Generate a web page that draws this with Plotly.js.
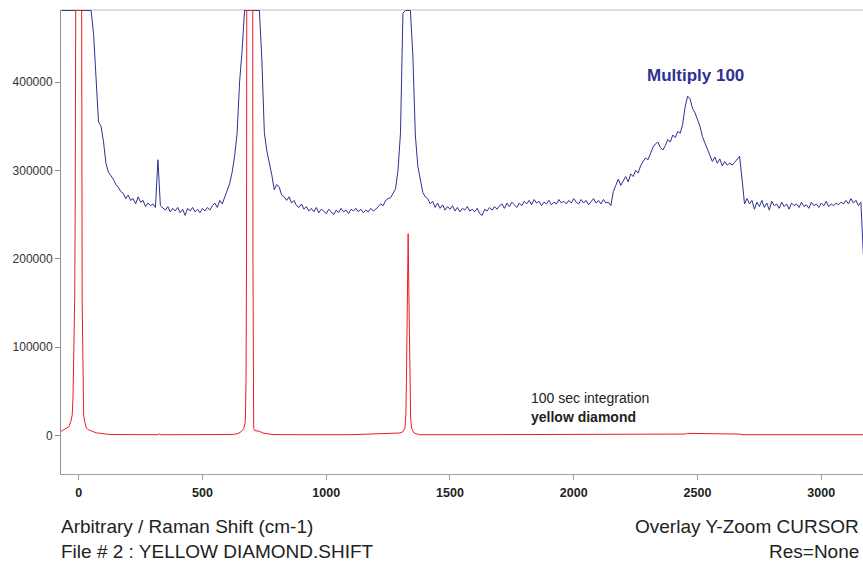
<!DOCTYPE html>
<html>
<head>
<meta charset="utf-8">
<script src="https://cdn.plot.ly/plotly-3.0.1.min.js"></script>
<style>html,body{margin:0;padding:0;background:#fff;}#chart{width:863px;height:565px;}</style>
</head>
<body>
<div id="chart"></div>
<script>
// Raman shift sampling grid for the x100 trace (cm-1)
const shiftStart = -70;
const shiftStep = 10;
// "Multiply 100" trace, values in thousands of counts (clipped at top)
const multipliedK = [
481,481,481,481,481,481,481,481,481,481,
481,481,481,455,405,355,350,333,308,298,
294,290,284,281,276,274,268,272,266,268,
262,270,264,266,259,263,260,262,258,312,
260,258,255,259,253,257,254,258,252,256,
249,257,254,258,253,256,252,257,254,258,
255,260,263,258,266,262,270,276,285,298,
316,342,400,435,481,481,481,481,481,481,
481,425,343,322,310,295,278,284,281,272,
270,266,270,263,266,260,258,262,256,259,
254,257,253,258,252,256,254,251,256,253,
250,255,252,257,253,255,251,256,254,257,
253,256,252,255,253,257,254,256,259,262,
260,266,268,269,274,279,300,342,478,481,
481,481,430,340,305,292,275,270,268,262,
265,258,263,257,261,255,259,256,260,254,
258,253,257,255,259,254,256,253,257,251,
249,256,254,258,255,259,256,260,262,257,
263,259,264,261,258,263,260,265,262,266,
261,267,263,265,260,264,262,266,261,264,
262,267,263,265,262,266,263,268,264,262,
267,263,266,261,265,268,263,266,262,267,
263,264,260,276,283,290,283,289,293,287,
296,293,300,297,305,310,314,312,320,326,
330,332,326,323,328,335,332,340,337,344,
342,352,372,384,381,370,365,358,350,338,
331,325,318,310,315,308,313,305,310,306,
308,306,309,312,316,290,262,268,262,266,
256,264,259,266,258,263,255,265,260,262,
257,264,259,262,256,263,260,262,258,264,
259,261,257,264,260,262,258,263,260,265,
259,262,260,263,261,264,262,266,262,268,
263,266,260,264,205
];
// Raw spectrum (red), Raman shift (cm-1) and counts
const rawShift = [-71,-61,-50,-40,-32,-26,-23,-19,-16,-14,-12,0,12,14,17,20,24,31,38,44,72,85,125,200,287,320,325,330,400,489,600,622,643,658,667,673,676,678,679,691,703,704,705.5,707,711,723,731,744,759,785,900,1100,1297,1309,1318,1322,1324,1328,1331,1334,1338,1341,1345,1354,1365,1378,1600,1900,2150,2160,2225,2230,2240,2400,2450,2460,2500,2510,2670,2680,2900,3170];
const rawCounts = [4500,6500,8700,9800,15500,23400,43800,108000,157000,266000,481000,481000,481000,153000,40400,23400,15800,8700,6500,5900,2700,2500,1000,900,800,800,1800,800,800,800,900,1000,2000,4500,8000,15000,60000,200000,481000,481000,481000,200000,40000,8000,5500,5000,4500,2700,1800,900,800,800,2700,4000,8000,25000,60000,160000,228300,160000,60000,20000,8000,3000,1700,800,800,800,900,1300,1300,900,1300,1400,1500,2300,2300,1500,1500,800,800,800];
const xTicks = [0,500,1000,1500,2000,2500,3000];
const yTicks = [0,100000,200000,300000,400000];

const multShift = multipliedK.map((v, i) => shiftStart + i * shiftStep);
const multCounts = multipliedK.map(v => v * 1000);

const FONT = 'Liberation Sans, Arial, sans-serif';
const traces = [
  {x: multShift, y: multCounts, type: 'scatter', mode: 'lines',
   line: {color: '#2e3192', width: 1}, hoverinfo: 'skip'},
  {x: rawShift, y: rawCounts, type: 'scatter', mode: 'lines',
   line: {color: '#ed1c24', width: 1}, hoverinfo: 'skip'}
];
const layout = {
  width: 863, height: 565,
  margin: {l: 61, r: 0, t: 10, b: 91},
  paper_bgcolor: '#ffffff', plot_bgcolor: '#ffffff',
  showlegend: false,
  font: {family: FONT, color: '#333333'},
  xaxis: {range: [-71.5, 3168.6], tickvals: xTicks, ticktext: xTicks.map(String),
    showgrid: false, zeroline: false, showline: true, linecolor: '#9aa0a6', linewidth: 1,
    ticks: 'outside', ticklen: 5, tickcolor: '#9aa0a6', ticklabelstandoff: 2,
    tickfont: {family: FONT, size: 12.5, color: '#222222', weight: 'bold'}},
  yaxis: {range: [-43700, 481500], tickvals: yTicks, ticktext: yTicks.map(String),
    showgrid: false, zeroline: false, showline: true, linecolor: '#8a9199', linewidth: 1,
    ticks: 'outside', ticklen: 5, tickcolor: '#8a9199',
    tickfont: {family: FONT, size: 12, color: '#333333'}},
  shapes: [{type: 'line', xref: 'paper', yref: 'paper', x0: 0, x1: 1, y0: 1, y1: 1,
    line: {color: '#b8bcc0', width: 1}, layer: 'below'}],
  annotations: [
    {xref: 'paper', yref: 'paper', x: 0.791, y: 0.8578, text: '<b>Multiply 100</b>',
     showarrow: false, font: {family: FONT, size: 17, color: '#2e3192'}, xanchor: 'center', yanchor: 'middle'},
    {xref: 'paper', yref: 'paper', x: 0.583, y: 0.1638, text: '100 sec integration',
     showarrow: false, font: {family: FONT, size: 14, color: '#222222'}, xanchor: 'left', yanchor: 'middle'},
    {xref: 'paper', yref: 'paper', x: 0.583, y: 0.1228, text: '<b>yellow diamond</b>',
     showarrow: false, font: {family: FONT, size: 14, color: '#222222'}, xanchor: 'left', yanchor: 'middle'},
    {xref: 'paper', yref: 'paper', x: -0.002, y: -0.1142, text: 'Arbitrary / Raman Shift (cm-1)',
     showarrow: false, font: {family: FONT, size: 19, color: '#222222'}, xanchor: 'left', yanchor: 'middle'},
    {xref: 'paper', yref: 'paper', x: -0.002, y: -0.1675, text: 'File # 2 : YELLOW DIAMOND.SHIFT',
     showarrow: false, font: {family: FONT, size: 19, color: '#222222'}, xanchor: 'left', yanchor: 'middle'},
    {xref: 'paper', yref: 'paper', x: 0.997, y: -0.1142, text: 'Overlay Y-Zoom CURSOR',
     showarrow: false, font: {family: FONT, size: 19, color: '#222222'}, xanchor: 'right', yanchor: 'middle'},
    {xref: 'paper', yref: 'paper', x: 0.997, y: -0.1675, text: 'Res=None',
     showarrow: false, font: {family: FONT, size: 19, color: '#222222'}, xanchor: 'right', yanchor: 'middle'}
  ]
};
Plotly.newPlot('chart', traces, layout, {staticPlot: true, displayModeBar: false});
</script>
</body>
</html>
